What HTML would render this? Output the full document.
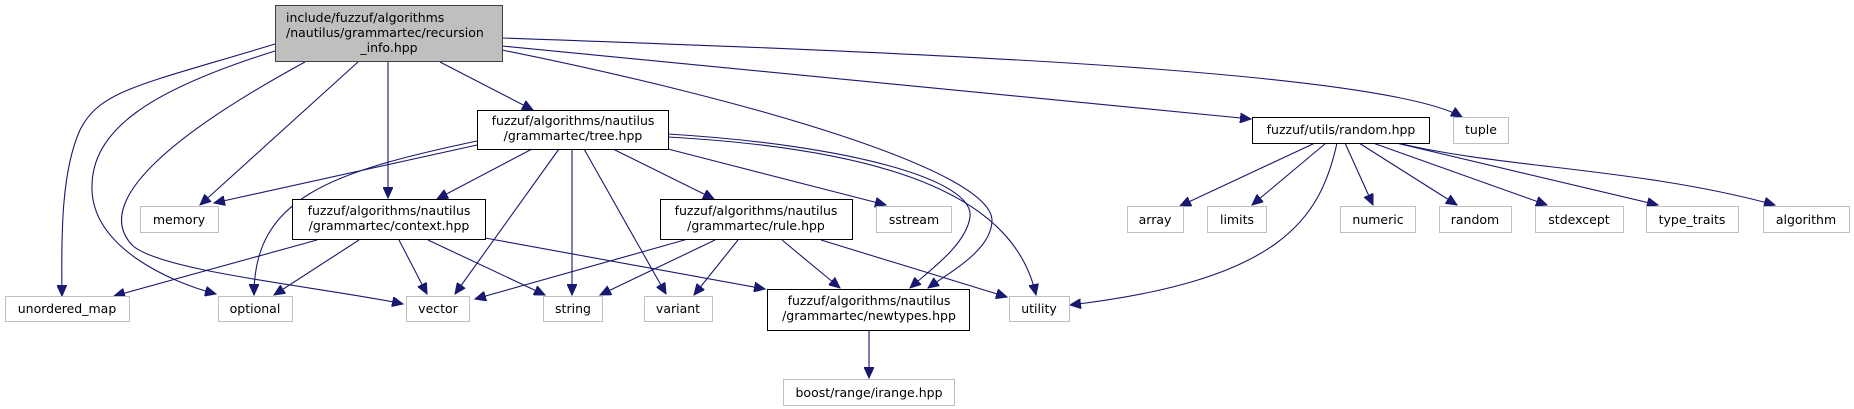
<!DOCTYPE html>
<html><head><meta charset="utf-8"><style>
html,body{margin:0;padding:0;background:#fff;}
svg{display:block;}
text{font-family:"DejaVu Sans","Liberation Sans",sans-serif;font-size:12.5px;fill:#000;}
</style></head><body>
<svg width="1854" height="409" viewBox="0 0 1854 409" xmlns="http://www.w3.org/2000/svg">
<defs>
<marker id="a" markerWidth="12" markerHeight="10" refX="11" refY="5" orient="auto" markerUnits="userSpaceOnUse">
<path d="M0,0 L11,5 L0,10 z" fill="#191970" stroke="#191970"/>
</marker>
</defs>
<g fill="none" stroke="#191970" stroke-width="1.1" marker-end="url(#a)">
<!-- root -->
<path d="M275,44 C140,85 100,90 80,130 C62,170 61,230 62,296"/>
<path d="M275,51 C150,90 90,130 92,190 C94,248 170,282 216,294"/>
<path d="M305,62 C180,130 90,200 132,245 C160,272 330,288 403,304"/>
<path d="M358,62 L200,205"/>
<path d="M388,62 L388,198"/>
<path d="M440,62 L533,110"/>
<path d="M502,50 C750,100 990,170 992,220 C992,250 950,272 928,288"/>
<path d="M502,46 L1251,119"/>
<path d="M502,38 C900,52 1380,70 1462,117"/>
<!-- tree -->
<path d="M477,145 L214,203"/>
<path d="M477,141 C330,172 254,198 254,295"/>
<path d="M532,149 L437,199"/>
<path d="M559,149 L455,294"/>
<path d="M572,149 L572,295"/>
<path d="M584,149 L666,294"/>
<path d="M613,149 L714,199"/>
<path d="M668,149 L886,205"/>
<path d="M668,134 C850,145 975,180 970,217 C966,245 930,270 910,288"/>
<path d="M668,137 C900,150 1015,200 1036,295"/>
<!-- context -->
<path d="M317,240 L114,296"/>
<path d="M359,240 L274,295"/>
<path d="M399,240 L427,294"/>
<path d="M428,240 L545,295"/>
<path d="M485,238 L765,289"/>
<!-- rule -->
<path d="M688,239 L475,299"/>
<path d="M715,240 L600,295"/>
<path d="M738,240 L694,295"/>
<path d="M782,240 L840,288"/>
<path d="M821,240 L1007,297"/>
<!-- newtypes -->
<path d="M869,330 L869,378"/>
<!-- random.hpp -->
<path d="M1315,143 L1180,206"/>
<path d="M1326,143 L1252,205"/>
<path d="M1337,143 C1320,220 1280,280 1070,305"/>
<path d="M1345,143 L1373,205"/>
<path d="M1359,143 L1457,205"/>
<path d="M1373,143 L1547,205"/>
<path d="M1396,143 L1658,205"/>
<path d="M1398,143 C1500,168 1640,168 1775,205"/>
</g>
<g stroke-width="1">
<rect x="275.5" y="5.5" width="227" height="56" fill="#bfbfbf" stroke="#404040"/>
<rect x="477.5" y="110.5" width="191" height="39" fill="#fff" stroke="#000"/>
<rect x="292.5" y="199.5" width="193" height="40" fill="#fff" stroke="#000"/>
<rect x="660.5" y="199.5" width="192" height="40" fill="#fff" stroke="#000"/>
<rect x="767.5" y="289.5" width="202" height="41" fill="#fff" stroke="#000"/>
<rect x="1252.5" y="117.5" width="177" height="26" fill="#fff" stroke="#000"/>
<g fill="#fff" stroke="#bfbfbf">
<rect x="140.5" y="206.5" width="78" height="26"/>
<rect x="876.5" y="206.5" width="75" height="26"/>
<rect x="5.5" y="296.5" width="124" height="25"/>
<rect x="218.5" y="296.5" width="74" height="25"/>
<rect x="406.5" y="296.5" width="63" height="25"/>
<rect x="543.5" y="296.5" width="59" height="25"/>
<rect x="644.5" y="296.5" width="68" height="25"/>
<rect x="1009.5" y="296.5" width="60" height="25"/>
<rect x="783.5" y="379.5" width="171" height="26"/>
<rect x="1453.5" y="117.5" width="55" height="26"/>
<rect x="1127.5" y="206.5" width="56" height="26"/>
<rect x="1207.5" y="206.5" width="59" height="26"/>
<rect x="1340.5" y="206.5" width="75" height="26"/>
<rect x="1439.5" y="206.5" width="72" height="26"/>
<rect x="1535.5" y="206.5" width="88" height="26"/>
<rect x="1646.5" y="206.5" width="92" height="26"/>
<rect x="1763.5" y="206.5" width="86" height="26"/>
</g>
</g>
<g text-anchor="start">
<text x="286" y="22">include/fuzzuf/algorithms</text>
<text x="286" y="37">/nautilus/grammartec/recursion</text>
</g>
<g text-anchor="middle">
<text x="389" y="52">_info.hpp</text>
<text x="573" y="125">fuzzuf/algorithms/nautilus</text>
<text x="573" y="140">/grammartec/tree.hpp</text>
<text x="389" y="215">fuzzuf/algorithms/nautilus</text>
<text x="389" y="230">/grammartec/context.hpp</text>
<text x="756" y="215">fuzzuf/algorithms/nautilus</text>
<text x="756" y="230">/grammartec/rule.hpp</text>
<text x="869" y="305">fuzzuf/algorithms/nautilus</text>
<text x="869" y="320">/grammartec/newtypes.hpp</text>
<text x="1341" y="134">fuzzuf/utils/random.hpp</text>
<text x="1481" y="134">tuple</text>
<text x="179" y="224">memory</text>
<text x="914" y="224">sstream</text>
<text x="67" y="313">unordered_map</text>
<text x="255" y="313">optional</text>
<text x="438" y="313">vector</text>
<text x="573" y="313">string</text>
<text x="678" y="313">variant</text>
<text x="1039" y="313">utility</text>
<text x="869" y="397">boost/range/irange.hpp</text>
<text x="1155" y="224">array</text>
<text x="1237" y="224">limits</text>
<text x="1378" y="224">numeric</text>
<text x="1475" y="224">random</text>
<text x="1579" y="224">stdexcept</text>
<text x="1692" y="224">type_traits</text>
<text x="1806" y="224">algorithm</text>
</g>
</svg>
</body></html>
